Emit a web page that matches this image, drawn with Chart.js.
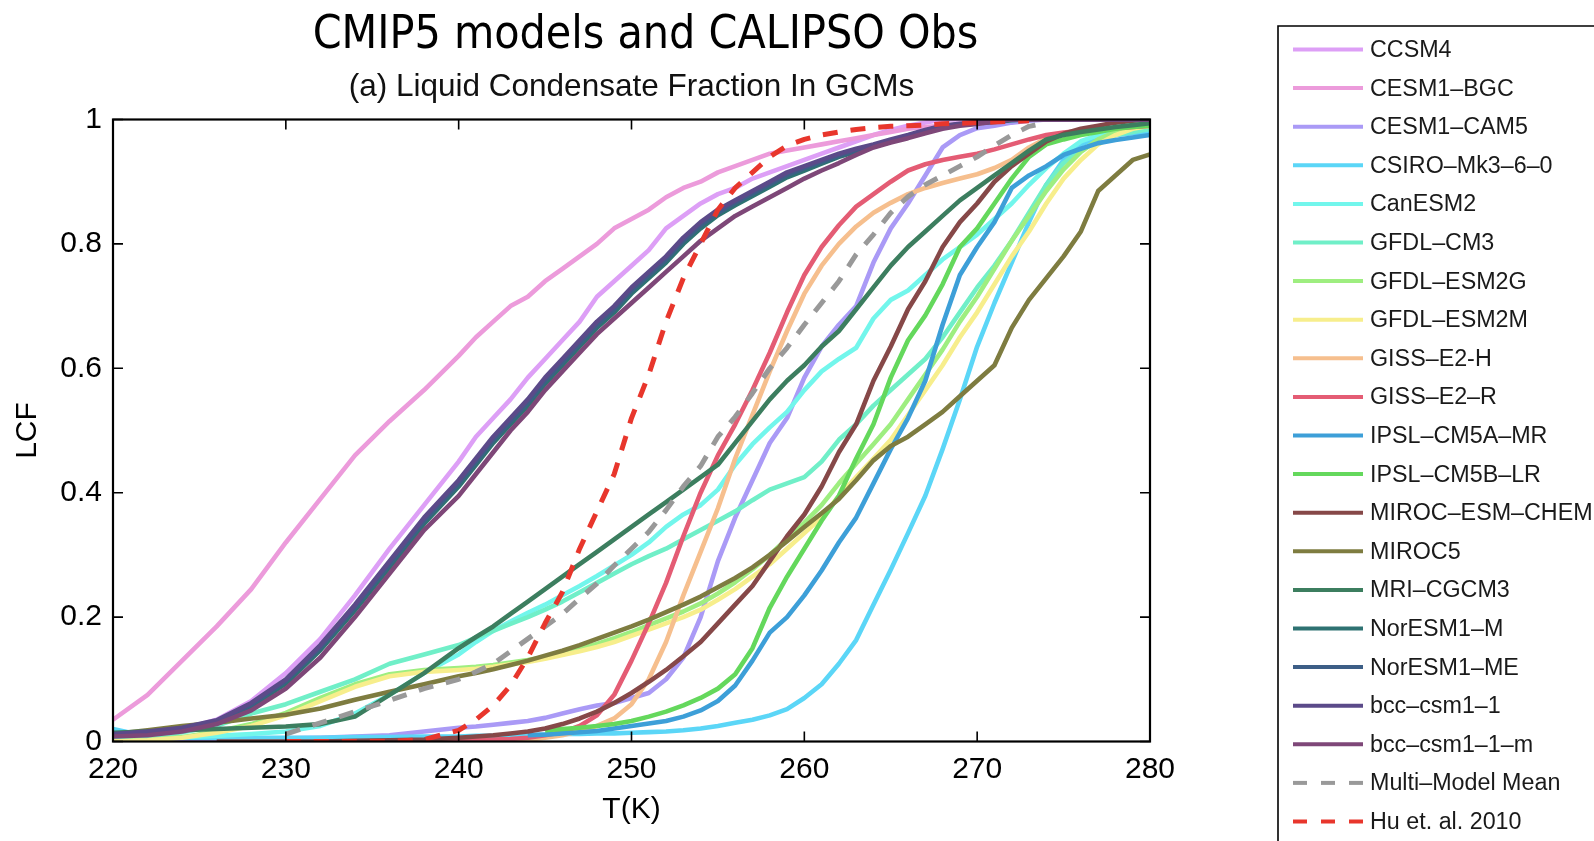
<!DOCTYPE html>
<html>
<head>
<meta charset="utf-8">
<script src="https://cdn.jsdelivr.net/npm/chart.js@4.4.1/dist/chart.umd.min.js"></script>
<style>
html,body{margin:0;padding:0;background:#fff;}
#wrap{width:1594px;height:841px;position:relative;}
canvas{display:block;}
</style>
</head>
<body>
<div id="wrap"><canvas id="c" width="1594" height="841"></canvas></div>
<script>
// ---- Temperatures (K): 2 K steps up to 240, then 1 K steps ----
const TEMPS = [220,222,224,226,228,230,232,234,236,238,240,
  241,242,243,244,245,246,247,248,249,250,
  251,252,253,254,255,256,257,258,259,260,
  261,262,263,264,265,266,267,268,269,270,
  271,272,273,274,275,276,277,278,279,280];

const X_TICKS = [220,230,240,250,260,270,280];
const Y_TICKS = [0,0.2,0.4,0.6,0.8,1];
const Y_TICK_LABELS = ['0','0.2','0.4','0.6','0.8','1'];

// ---- Liquid condensate fraction per model ----
const CCSM4 = [.005,.01,.02,.035,.065,.11,.165,.235,.31,.38,.45, .49,.52,.55,.585,.615,.645,.675,.715,.74,.765, .79,.825,.845,.865,.88,.89,.905,.915,.925,.935, .945,.955,.965,.975,.983,.99,.995,1,1,1, 1,1,1,1,1,1,1,1,1,1];
const CESM1_BGC = [.035,.075,.13,.185,.245,.32,.39,.46,.515,.565,.62, .65,.675,.70,.715,.74,.76,.78,.80,.825,.84, .855,.875,.89,.90,.915,.925,.935,.945,.95,.955, .96,.965,.97,.975,.98,.985,.988,.99,.993,.995, .997,1,1,1,1,1,1,1,1,1];
const CESM1_CAM5 = [0,.001,.002,.003,.004,.005,.006,.008,.01,.016,.022, .024,.027,.03,.033,.038,.045,.052,.058,.062,.07, .078,.1,.135,.2,.29,.36,.42,.48,.52,.585, .635,.67,.70,.77,.825,.865,.91,.955,.975,.986, .99,.995,.998,1,1,1,1,1,1,1];
const CSIRO_MK3 = [.02,.008,.006,.006,.006,.006,.006,.007,.007,.008,.008, .009,.009,.01,.01,.011,.012,.012,.013,.013,.014, .015,.016,.018,.021,.025,.03,.035,.042,.052,.07, .092,.125,.163,.22,.276,.335,.395,.47,.55,.635, .705,.77,.835,.895,.935,.96,.97,.975,.978,.98];
const CANESM2 = [.005,.006,.007,.009,.012,.016,.025,.045,.075,.11,.14, .16,.178,.193,.207,.22,.235,.25,.266,.283,.3, .32,.345,.365,.38,.405,.445,.478,.505,.53,.565, .595,.615,.633,.68,.71,.725,.75,.775,.795,.815, .84,.865,.895,.922,.945,.965,.975,.98,.983,.985];
const GFDL_CM3 = [.005,.008,.015,.025,.045,.06,.08,.1,.125,.14,.155, .167,.178,.189,.2,.212,.225,.24,.255,.27,.285, .298,.31,.325,.34,.355,.37,.388,.405,.415,.425, .45,.485,.51,.54,.565,.59,.615,.65,.69,.73, .765,.805,.85,.895,.93,.95,.965,.975,.98,.985];
const GFDL_ESM2G = [0,.002,.007,.016,.028,.046,.07,.092,.108,.115,.118, .12,.123,.127,.131,.136,.142,.149,.157,.166,.176, .187,.198,.209,.222,.238,.256,.277,.3,.326,.352, .38,.415,.447,.478,.51,.55,.59,.63,.675,.715, .76,.805,.845,.885,.92,.948,.968,.98,.988,.992];
const GFDL_ESM2M = [0,.002,.006,.014,.025,.042,.065,.088,.105,.112,.115, .117,.12,.124,.128,.133,.139,.145,.152,.16,.17, .18,.19,.2,.212,.228,.245,.265,.285,.31,.335, .36,.395,.425,.455,.485,.525,.565,.605,.65,.69, .735,.78,.82,.865,.905,.935,.96,.975,.985,.99];
const GISS_E2_H = [null,null,null,null,null,null,null,null,0,.001,.002, .002,.002,.003,.003,.006,.01,.017,.025,.037,.06, .1,.16,.235,.305,.375,.455,.525,.595,.66,.72, .765,.8,.828,.85,.866,.88,.89,.898,.905,.912, .922,.935,.955,.97,.976,.98,.983,.985,.988,.99];
const GISS_E2_R = [null,null,null,null,null,null,null,null,0,.001,.002, .002,.003,.004,.006,.01,.015,.025,.042,.075,.13, .19,.255,.33,.4,.46,.51,.565,.625,.69,.75, .795,.83,.86,.88,.9,.918,.928,.935,.94,.945, .952,.96,.968,.975,.979,.982,.984,.986,.988,.99];
const IPSL_CM5A_MR = [null,null,null,null,null,null,null,null,null,null,null, null,null,null,.01,.011,.013,.015,.017,.021,.025, .029,.033,.04,.05,.065,.09,.13,.175,.2,.235, .275,.32,.36,.415,.47,.52,.58,.67,.75,.795, .835,.89,.91,.925,.943,.953,.962,.967,.971,.975];
const IPSL_CM5B_LR = [null,null,null,null,null,null,null,null,null,null,null, null,null,null,null,.018,.02,.022,.025,.028,.033, .04,.048,.058,.07,.085,.108,.15,.215,.265,.31, .355,.395,.455,.51,.585,.645,.685,.735,.795,.825, .865,.905,.94,.96,.968,.975,.98,.985,.988,.99];
const MIROC_ESM_CHEM = [null,null,null,0,0,0,0,.001,.002,.003,.006, .008,.01,.013,.016,.021,.028,.037,.048,.062,.078, .096,.115,.137,.16,.19,.22,.25,.29,.33,.365, .41,.465,.51,.58,.635,.695,.74,.795,.835,.865, .9,.925,.945,.965,.977,.985,.99,.995,.998,1];
const MIROC5 = [.012,.018,.025,.03,.037,.043,.053,.067,.08,.092,.105, .11,.116,.123,.13,.138,.146,.155,.165,.175,.185, .196,.208,.22,.233,.248,.263,.28,.3,.322,.345, .367,.39,.42,.452,.475,.49,.51,.53,.555,.58, .605,.665,.71,.745,.78,.82,.885,.91,.935,.944];
const MRI_CGCM3 = [.014,.016,.018,.02,.022,.024,.028,.04,.075,.11,.15, .168,.185,.205,.225,.245,.265,.285,.305,.325,.345, .365,.385,.405,.425,.445,.48,.515,.55,.58,.605, .635,.66,.695,.73,.765,.795,.82,.845,.87,.89, .91,.93,.95,.968,.975,.98,.984,.988,.991,.994];
const NORESM1_M = [.01,.014,.019,.03,.056,.093,.147,.211,.28,.35,.41, .445,.48,.51,.54,.575,.605,.635,.665,.69,.72, .745,.77,.8,.825,.846,.862,.877,.892,.907,.918, .929,.94,.948,.956,.964,.972,.98,.988,.992,.994, .996,.999,1,1,1,1,1,1,1,1];
const NORESM1_ME = [.011,.015,.021,.032,.059,.097,.151,.216,.285,.355,.415, .45,.485,.515,.545,.58,.61,.64,.67,.695,.725, .75,.775,.805,.83,.85,.866,.881,.896,.911,.922, .932,.942,.95,.958,.966,.974,.982,.989,.992,.995, .997,1,1,1,1,1,1,1,1,1];
const BCC_CSM1_1 = [.012,.016,.022,.034,.062,.1,.155,.22,.29,.36,.42, .455,.49,.52,.55,.585,.615,.645,.675,.7,.73, .755,.78,.81,.835,.855,.87,.885,.9,.915,.925, .935,.945,.953,.96,.968,.975,.983,.99,.993,.995, .997,1,1,1,1,1,1,1,1,1];
const BCC_CSM1_1_M = [.008,.01,.016,.028,.05,.085,.135,.2,.27,.34,.395, .43,.465,.5,.53,.565,.595,.625,.655,.68,.705, .73,.755,.78,.805,.825,.845,.86,.875,.89,.905, .918,.93,.943,.955,.963,.97,.978,.985,.99,.993, .997,1,1,1,1,1,1,1,1,1];
const MULTI_MODEL_MEAN = [null,null,null,null,null,.012,.03,.048,.066,.085,.10, .112,.125,.145,.165,.185,.205,.23,.254,.283,.31, .337,.372,.41,.443,.49,.522,.56,.6,.633,.67, .705,.74,.783,.815,.85,.876,.895,.91,.925,.94, .958,.975,.989,.995,null,null,null,null,null,null];
const HU_2010 = [null,null,null,null,null,0,0,0,0,.003,.018, .035,.058,.09,.135,.19,.24,.31,.37,.43,.52, .59,.675,.745,.80,.855,.89,.915,.94,.958,.968, .975,.98,.984,.987,.989,.99,.991,.993,.994,.995, .996,.997,.998,null,null,null,null,null,null,null];

const SERIES_LABELS = ['CCSM4','CESM1\u2013BGC','CESM1\u2013CAM5','CSIRO\u2013Mk3\u20136\u20130','CanESM2','GFDL\u2013CM3','GFDL\u2013ESM2G','GFDL\u2013ESM2M','GISS\u2013E2-H','GISS\u2013E2\u2013R','IPSL\u2013CM5A\u2013MR','IPSL\u2013CM5B\u2013LR','MIROC\u2013ESM\u2013CHEM','MIROC5','MRI\u2013CGCM3','NorESM1\u2013M','NorESM1\u2013ME','bcc\u2013csm1\u20131','bcc\u2013csm1\u20131\u2013m','Multi\u2013Model Mean','Hu et. al. 2010'];
const SERIES_VALUES = [CCSM4,CESM1_BGC,CESM1_CAM5,CSIRO_MK3,CANESM2,GFDL_CM3,GFDL_ESM2G,GFDL_ESM2M,GISS_E2_H,GISS_E2_R,IPSL_CM5A_MR,IPSL_CM5B_LR,MIROC_ESM_CHEM,MIROC5,MRI_CGCM3,NORESM1_M,NORESM1_ME,BCC_CSM1_1,BCC_CSM1_1_M,MULTI_MODEL_MEAN,HU_2010];

// ---- styles ----
const SERIES_COLORS = ['#dd9ff6','#ec9bdb','#aa9af6','#5bd6f7','#72f6ec','#70efc8','#9eee80','#f7ee8c','#f6bf8e','#e45c74','#3d9fd8','#64d85c','#864848','#7e7c40','#3c7e5f','#2e7272','#3d5e86','#5b4a89','#7e4778','#999999','#e8362c'];
const DASHED = [false,false,false,false,false,false,false,false,false,false,false,false,false,false,false,false,false,false,false,true,true];

const FONT = '"Liberation Sans", Arial, Helvetica, sans-serif';
Chart.defaults.font.family = FONT;
Chart.defaults.color = '#000';

const datasets = SERIES_VALUES.map((vals, i) => ({
  label: SERIES_LABELS[i],
  data: vals,
  borderColor: SERIES_COLORS[i],
  backgroundColor: SERIES_COLORS[i],
  borderWidth: DASHED[i] ? 5 : 4.6,
  borderDash: DASHED[i] ? [15, 13] : [],
  pointRadius: 0,
  tension: 0,
  fill: false,
  spanGaps: false,
  borderCapStyle: 'butt',
  borderJoinStyle: 'round',
  order: SERIES_VALUES.length - i
}));

// shift the main title so it sits where the reference places it
const titleShiftPlugin = {
  id: 'titleShift',
  afterLayout(chart, args, o) {
    const t = chart.titleBlock;
    if (t) { t.left += o.dx; t.right += o.dx; }
  }
};

const framePlugin = {
  id: 'frame',
  afterDatasetsDraw(chart) {
    const {ctx, chartArea: a, scales: {x, y}} = chart;
    ctx.save();
    ctx.strokeStyle = '#000';
    ctx.lineWidth = 1.6;
    ctx.beginPath();
    x.ticks.forEach(t => {
      const px = x.getPixelForValue(t.value);
      ctx.moveTo(px, a.bottom); ctx.lineTo(px, a.bottom - 10);
      ctx.moveTo(px, a.top); ctx.lineTo(px, a.top + 10);
    });
    y.ticks.forEach(t => {
      const py = y.getPixelForValue(t.value);
      ctx.moveTo(a.left, py); ctx.lineTo(a.left + 10, py);
      ctx.moveTo(a.right, py); ctx.lineTo(a.right - 10, py);
    });
    ctx.stroke();
    ctx.lineWidth = 2.2;
    ctx.strokeRect(a.left, a.top, a.right - a.left, a.bottom - a.top);
    ctx.restore();
  }
};

const boxLegendPlugin = {
  id: 'boxLegend',
  afterDraw(chart, args, o) {
    const ctx = chart.ctx;
    ctx.save();
    ctx.strokeStyle = '#000';
    ctx.lineWidth = 1.6;
    ctx.beginPath();
    ctx.moveTo(o.left, chart.height + 10);
    ctx.lineTo(o.left, o.top);
    ctx.lineTo(chart.width + 10, o.top);
    ctx.stroke();
    ctx.font = o.fontSize + 'px ' + FONT;
    ctx.textBaseline = 'middle';
    ctx.textAlign = 'left';
    chart.data.datasets.forEach((ds, i) => {
      const yy = o.firstY + i * o.rowStep;
      ctx.strokeStyle = ds.borderColor;
      ctx.lineWidth = 4;
      ctx.setLineDash(ds.borderDash && ds.borderDash.length ? [14, 14] : []);
      ctx.beginPath();
      ctx.moveTo(o.lineX0, yy);
      ctx.lineTo(o.lineX1, yy);
      ctx.stroke();
      ctx.setLineDash([]);
      ctx.fillStyle = '#1a1a1a';
      ctx.fillText(ds.label, o.textX, yy + 1);
    });
    ctx.restore();
  }
};

new Chart(document.getElementById('c'), {
  type: 'line',
  data: { labels: TEMPS, datasets },
  plugins: [titleShiftPlugin, framePlugin, boxLegendPlugin],
  options: {
    responsive: false,
    animation: false,
    devicePixelRatio: 1,
    layout: { padding: { left: 0, top: 0, right: 444, bottom: 0 } },
    plugins: {
      legend: { display: false },
      tooltip: { enabled: false },
      title: {
        display: true,
        text: 'CMIP5 models and CALIPSO Obs',
        fullSize: false,
        color: '#000',
        font: { family: '"DejaVu Sans Condensed", "DejaVu Sans", sans-serif', size: 46, weight: 'normal' },
        padding: { top: 8, bottom: 0 }
      },
      subtitle: {
        display: true,
        text: '(a) Liquid Condensate Fraction In GCMs',
        fullSize: false,
        color: '#111',
        font: { family: FONT, size: 31.5, weight: 'normal' },
        padding: { top: 5, bottom: 13.5 }
      },
      titleShift: { dx: 14 },
      boxLegend: { left: 1278, top: 26, firstY: 49.5, rowStep: 38.6, lineX0: 1293, lineX1: 1363, textX: 1370, fontSize: 23.3 }
    },
    scales: {
      x: {
        type: 'linear',
        min: 220, max: 280,
        afterBuildTicks(scale) { scale.ticks = X_TICKS.map(v => ({ value: v })); },
        afterFit(scale) { scale.height = 99.5; },
        grid: { display: false, drawTicks: false },
        border: { display: false },
        ticks: { font: { size: 30 }, color: '#000', padding: 10.5, maxRotation: 0, autoSkip: false },
        title: { display: true, text: 'T(K)', color: '#000', font: { size: 30 }, padding: { top: 0, bottom: 13 } }
      },
      y: {
        type: 'linear',
        min: 0, max: 1,
        afterBuildTicks(scale) { scale.ticks = Y_TICKS.map(v => ({ value: v })); },
        afterFit(scale) { scale.width = 113; },
        grid: { display: false, drawTicks: false },
        border: { display: false },
        ticks: {
          font: { size: 30 }, color: '#000', padding: 11,
          callback: (value, index) => Y_TICK_LABELS[index]
        },
        title: { display: true, text: 'LCF', color: '#000', font: { size: 30 }, padding: { top: 10, bottom: 0 } }
      }
    }
  }
});
</script>
</body>
</html>
